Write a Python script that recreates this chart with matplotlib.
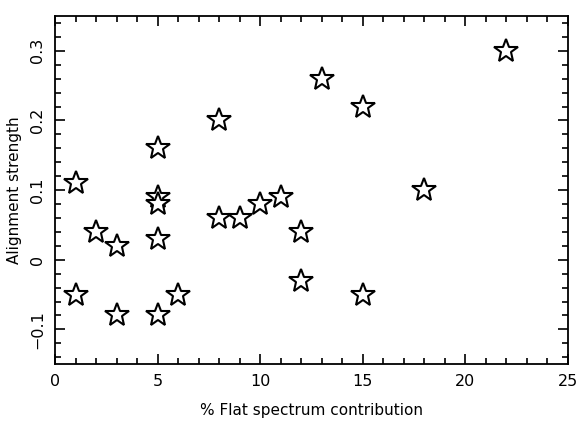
import matplotlib
matplotlib.use('Agg')
import matplotlib.pyplot as plt
from matplotlib.ticker import MultipleLocator

flat_pct = [1, 1, 2, 3, 3, 5, 5, 5, 5, 5, 6, 8, 8, 9, 10, 11, 12, 12, 13, 15, 15, 18, 22]
strength = [0.11, -0.05, 0.04, 0.02, -0.08, 0.16, 0.09, 0.08, 0.03, -0.08, -0.05,
            0.20, 0.06, 0.06, 0.08, 0.09, 0.04, -0.03, 0.26, 0.22, -0.05, 0.10, 0.30]

plt.rcParams['font.family'] = ['DejaVu Sans']

fig = plt.figure(figsize=(5.79, 4.22), dpi=100)
ax = fig.add_axes([0.095, 0.137, 0.886, 0.825])

ax.plot(flat_pct, strength, linestyle='none', marker='*', markersize=18,
        markerfacecolor='white', markeredgecolor='black', markeredgewidth=1.5)

ax.set_xlim(0, 25)
ax.set_ylim(-0.15, 0.35)
ax.xaxis.set_major_locator(MultipleLocator(5))
ax.xaxis.set_minor_locator(MultipleLocator(1))
ax.yaxis.set_major_locator(MultipleLocator(0.1))
ax.yaxis.set_minor_locator(MultipleLocator(0.02))
ax.tick_params(which='both', direction='in', top=True, right=True, width=1.2, labelsize=11.5)
ax.tick_params(which='major', length=7, pad=7)
ax.tick_params(which='minor', length=4)
ax.set_yticks([-0.1, 0, 0.1, 0.2, 0.3])
ax.set_yticklabels(['\u22120.1', '0', '0.1', '0.2', '0.3'], rotation=90, va='center')
for sp in ax.spines.values():
    sp.set_linewidth(1.3)

ax.set_xlabel('% Flat spectrum contribution', fontsize=11, labelpad=10)
ax.set_ylabel('Alignment strength', fontsize=11, labelpad=6)

fig.savefig('out.png', dpi=100)
